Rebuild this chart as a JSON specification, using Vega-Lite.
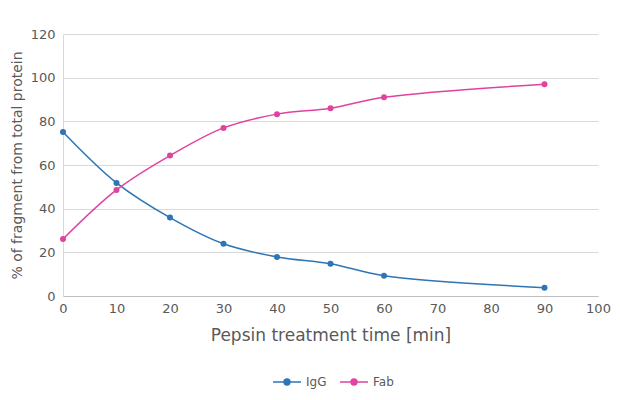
{
  "$schema": "https://vega.github.io/schema/vega-lite/v6.json",
  "width": 535,
  "height": 262,
  "autosize": "none",
  "padding": {"left": 63, "top": 34, "right": 22, "bottom": 104},
  "background": "white",
  "config": {
    "font": "DejaVu Sans",
    "view": {"stroke": null}
  },
  "data": {
    "values": [
      {"time": 0, "value": 75.1, "fragment": "IgG"},
      {"time": 10, "value": 51.8, "fragment": "IgG"},
      {"time": 20, "value": 35.9, "fragment": "IgG"},
      {"time": 30, "value": 23.9, "fragment": "IgG"},
      {"time": 40, "value": 17.9, "fragment": "IgG"},
      {"time": 50, "value": 14.8, "fragment": "IgG"},
      {"time": 60, "value": 9.3, "fragment": "IgG"},
      {"time": 90, "value": 3.8, "fragment": "IgG"},
      {"time": 0, "value": 26.1, "fragment": "Fab"},
      {"time": 10, "value": 48.6, "fragment": "Fab"},
      {"time": 20, "value": 64.3, "fragment": "Fab"},
      {"time": 30, "value": 77.0, "fragment": "Fab"},
      {"time": 40, "value": 83.3, "fragment": "Fab"},
      {"time": 50, "value": 86.0, "fragment": "Fab"},
      {"time": 60, "value": 91.0, "fragment": "Fab"},
      {"time": 90, "value": 97.0, "fragment": "Fab"}
    ]
  },
  "mark": {
    "type": "line",
    "interpolate": "catmull-rom",
    "strokeWidth": 1.5,
    "point": {"filled": true, "size": 36}
  },
  "encoding": {
    "x": {
      "field": "time",
      "type": "quantitative",
      "scale": {"domain": [0, 100], "nice": false},
      "axis": {
        "title": "Pepsin treatment time [min]",
        "values": [0, 10, 20, 30, 40, 50, 60, 70, 80, 90, 100],
        "grid": false,
        "ticks": false,
        "labelFlush": false,
        "domainColor": "#bfbfbf",
        "labelColor": "#595959",
        "labelFontSize": 13,
        "labelPadding": 6,
        "titleColor": "#595959",
        "titleFontSize": 17,
        "titleFontWeight": "normal",
        "titlePadding": 12
      }
    },
    "y": {
      "field": "value",
      "type": "quantitative",
      "scale": {"domain": [0, 120], "nice": false},
      "axis": {
        "title": "% of fragment from total protein",
        "values": [0, 20, 40, 60, 80, 100, 120],
        "gridColor": "#d9d9d9",
        "ticks": false,
        "domainColor": "#d9d9d9",
        "labelColor": "#595959",
        "labelFontSize": 13,
        "labelPadding": 8,
        "titleColor": "#595959",
        "titleFontSize": 14,
        "titleFontWeight": "normal",
        "titlePadding": 6
      }
    },
    "color": {
      "field": "fragment",
      "type": "nominal",
      "sort": ["IgG", "Fab"],
      "scale": {"domain": ["IgG", "Fab"], "range": ["#2e75b6", "#e0439f"]},
      "legend": {
        "title": null,
        "orient": "none",
        "direction": "horizontal",
        "legendX": 209,
        "legendY": 333,
        "labelColor": "#595959",
        "labelFontSize": 12,
        "symbolType": "M -1 0 L 1 0 M -0.21 0 A 0.21 0.21 0 1 0 0.21 0 A 0.21 0.21 0 1 0 -0.21 0",
        "symbolSize": 784,
        "symbolStrokeWidth": 1.5,
        "columnPadding": 10
      }
    }
  }
}
